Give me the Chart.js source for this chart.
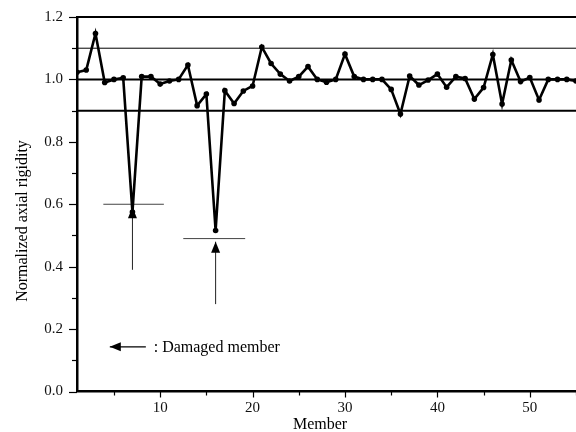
<!DOCTYPE html>
<html>
<head>
<meta charset="utf-8">
<title>Normalized axial rigidity</title>
<script src="https://cdn.jsdelivr.net/npm/chart.js@4.4.1/dist/chart.umd.min.js"></script>
<style>
  html, body { margin: 0; padding: 0; background: #fff; }
  #wrap { width: 576px; height: 432px; }
</style>
</head>
<body>
<div id="wrap"><canvas id="rigidityChart"></canvas></div>
<script>
// member numbers and the identified axial rigidity
const members = [1, 2, 3, 4, 5, 6, 7, 8, 9, 10,
  11, 12, 13, 14, 15, 16, 17, 18, 19, 20,
  21, 22, 23, 24, 25, 26, 27, 28, 29, 30,
  31, 32, 33, 34, 35, 36, 37, 38, 39, 40,
  41, 42, 43, 44, 45, 46, 47, 48, 49, 50,
  51, 52, 53, 54, 55];
const rigidity = [1.023, 1.030, 1.147, 0.990, 1.000, 1.005, 0.575, 1.009, 1.009, 0.985,
  0.995, 1.000, 1.046, 0.916, 0.953, 0.516, 0.964, 0.923, 0.963, 0.979,
  1.104, 1.051, 1.017, 0.995, 1.009, 1.041, 1.000, 0.991, 1.000, 1.081,
  1.009, 1.000, 1.000, 1.000, 0.968, 0.889, 1.011, 0.982, 0.998, 1.017,
  0.975, 1.009, 1.003, 0.937, 0.974, 1.080, 0.921, 1.062, 0.993, 1.006,
  0.934, 1.000, 1.000, 1.000, 0.995];

// horizontal reference levels
const refLevels = [1.2, 1.1, 1.0, 0.9];
const refWidths = [2, 1, 2, 2];

// damaged members : arrow from below + short bar at the identified value
const damagedMembers = [7, 16];
const arrowFrom = [0.39, 0.28];
const arrowTo = [0.59, 0.48];
const barLevel = [0.60, 0.49];
const barFrom = [3.85, 12.5];
const barTo = [10.4, 19.2];

// legend arrow (":" Damaged member)
const legendY = 0.143;
const legendArrowStart = 8.45;
const legendArrowEnd = 4.55;
const legendTextAt = 9.3;
const legendText = ': Damaged member';

// ticks
const xTicks = [5, 10, 15, 20, 25, 30, 35, 40, 45, 50, 55];
const yTicks = [0, 0.1, 0.2, 0.3, 0.4, 0.5, 0.6, 0.7, 0.8, 0.9, 1.0, 1.1, 1.2];

const serif = 'Liberation Serif, Times New Roman, serif';

// build datasets
var datasets = [];
datasets.push({
  label: 'rigidity',
  data: members.map((m, i) => ({ x: m, y: rigidity[i] })),
  borderColor: '#000',
  borderWidth: 2.6,
  pointRadius: 2.8,
  pointBackgroundColor: '#000',
  pointBorderWidth: 0,
  tension: 0
});

for (let i = 0; i < damagedMembers.length; i++) {
  datasets.push({
    label: 'arrow' + i,
    data: [{ x: damagedMembers[i], y: arrowFrom[i] }, { x: damagedMembers[i], y: arrowTo[i] }],
    borderColor: '#222',
    borderWidth: 1,
    pointRadius: 0,
    arrowHead: true
  });
  datasets.push({
    label: 'bar' + i,
    data: [{ x: barFrom[i], y: barLevel[i] }, { x: barTo[i], y: barLevel[i] }],
    borderColor: '#444',
    borderWidth: 1,
    pointRadius: 0
  });
}

datasets.push({
  label: 'legendArrow',
  data: [{ x: legendArrowStart, y: legendY }, { x: legendArrowEnd, y: legendY }],
  borderColor: '#000',
  borderWidth: 1.2,
  pointRadius: 0,
  arrowHead: true
});

refLevels.forEach((lvl, i) => {
  datasets.push({
    label: 'ref' + lvl,
    data: [{ x: members[0], y: lvl }, { x: members[members.length - 1], y: lvl }],
    borderColor: '#000',
    borderWidth: refWidths[i],
    pointRadius: 0,
    clip: false
  });
});

// arrowheads at the last point of a dataset, ticks, titles and legend text
const extras = {
  id: 'extras',
  afterDatasetsDraw(chart) {
    const ctx = chart.ctx;
    chart.data.datasets.forEach((ds, i) => {
      if (!ds.arrowHead) return;
      const pts = chart.getDatasetMeta(i).data;
      const a = pts[pts.length - 2], b = pts[pts.length - 1];
      const ang = Math.atan2(b.y - a.y, b.x - a.x);
      const len = 11, half = 4.5;
      ctx.save();
      ctx.fillStyle = '#000';
      ctx.translate(b.x, b.y);
      ctx.rotate(ang);
      ctx.beginPath();
      ctx.moveTo(0, 0);
      ctx.lineTo(-len, -half);
      ctx.lineTo(-len, half);
      ctx.closePath();
      ctx.fill();
      ctx.restore();
    });
  },
  afterDraw(chart) {
    const ctx = chart.ctx;
    const xs = chart.scales.x, ys = chart.scales.y;
    const area = chart.chartArea;
    ctx.save();
    ctx.strokeStyle = '#000';
    ctx.lineWidth = 1.2;
    xTicks.forEach(v => {
      const px = Math.round(xs.getPixelForValue(v)) + 0.5;
      const len = v % 10 === 0 ? 6 : 4;
      ctx.beginPath();
      ctx.moveTo(px, area.bottom);
      ctx.lineTo(px, area.bottom + len);
      ctx.stroke();
    });
    yTicks.forEach(v => {
      const py = Math.round(ys.getPixelForValue(v)) + 0.5;
      const len = Math.round(v * 10) % 2 === 0 ? 8 : 5;
      ctx.beginPath();
      ctx.moveTo(area.left, py);
      ctx.lineTo(area.left - len, py);
      ctx.stroke();
    });

    ctx.fillStyle = '#000';
    ctx.font = '16px ' + serif;
    ctx.textBaseline = 'middle';
    ctx.textAlign = 'left';
    ctx.fillText(legendText, xs.getPixelForValue(legendTextAt), ys.getPixelForValue(legendY) + 1);

    // axis titles
    ctx.textAlign = 'center';
    ctx.fillText('Member', 320, 425);
    ctx.translate(23, 221);
    ctx.rotate(-Math.PI / 2);
    ctx.fillText('Normalized axial rigidity', 0, 0);
    ctx.restore();
  }
};

new Chart(document.getElementById('rigidityChart'), {
  type: 'line',
  data: { datasets: datasets },
  options: {
    responsive: true,
    maintainAspectRatio: false,
    animation: false,
    // no auto padding: plot runs right up to the canvas edge like the original figure
    layout: { autoPadding: false, padding: { top: 17, right: 0, bottom: 0, left: 0 } },
    plugins: {
      legend: { display: false },
      tooltip: { enabled: false }
    },
    scales: {
      x: {
        type: 'linear',
        min: 1,
        max: 55,
        afterBuildTicks: s => { s.ticks = xTicks.map(v => ({ value: v })); },
        afterFit: s => { s.height = 40.5; },
        // tick marks are drawn by the plugin, tickLength only spaces the labels
        grid: { display: false, tickLength: 8 },
        border: { color: '#000', width: 2.5 },
        ticks: {
          autoSkip: false,
          maxRotation: 0,
          padding: 0,
          color: '#111',
          font: { family: serif, size: 15 },
          callback: v => (v % 10 === 0 ? String(v) : '')
        }
      },
      y: {
        min: 0,
        max: 1.2,
        afterBuildTicks: s => { s.ticks = yTicks.map(v => ({ value: v })); },
        afterFit: s => { s.width = 77; },
        grid: { display: false, tickLength: 8 },
        border: { color: '#000', width: 2.5 },
        ticks: {
          autoSkip: false,
          padding: 6,
          color: '#111',
          font: { family: serif, size: 15 },
          callback: v => (Math.round(v * 10) % 2 === 0 ? v.toFixed(1) : '')
        }
      }
    }
  },
  plugins: [extras]
});
</script>
</body>
</html>
